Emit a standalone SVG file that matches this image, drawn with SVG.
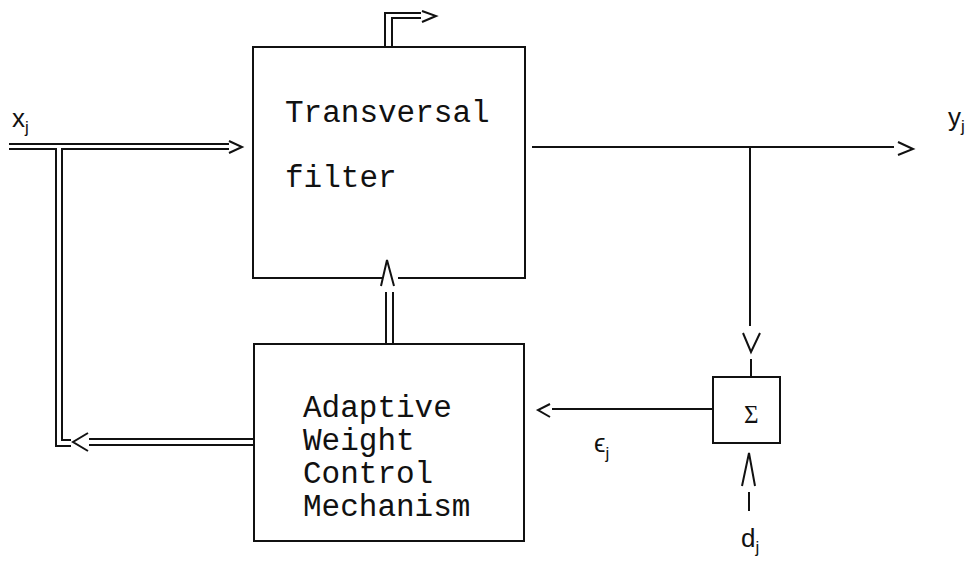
<svg xmlns="http://www.w3.org/2000/svg" width="979" height="562" viewBox="0 0 979 562">
<style>
.ln{fill:none;stroke:#111;stroke-width:2;stroke-linecap:square;stroke-linejoin:miter}
.ar{fill:none;stroke:#111;stroke-width:2}
.box{fill:none;stroke:#111;stroke-width:2}
.mono{font-family:"Liberation Mono","DejaVu Sans Mono",monospace;font-size:31px;fill:#111}
.lab{font-family:"Liberation Sans","DejaVu Sans",sans-serif;fill:#111}
</style>
<rect width="979" height="562" fill="#fff"/>
<g id="filter">
<path class="box" d="M382,278 H253 V47 H525 V278 H398"/>
<text class="mono" x="285" y="122">Transversal</text>
<text class="mono" x="285" y="187">filter</text>
</g>
<g id="adaptive">
<rect class="box" x="254" y="344" width="270" height="197"/>
<text class="mono" x="303" y="417">Adaptive</text>
<text class="mono" x="303" y="450">Weight</text>
<text class="mono" x="303" y="483">Control</text>
<text class="mono" x="303" y="516">Mechanism</text>
</g>
<g id="sum">
<rect class="box" x="713" y="377" width="67" height="66"/>
<text x="744" y="423" font-size="25" font-family="Liberation Serif,serif" fill="#111">Σ</text>
</g>
<g id="labels">
<text class="lab" x="12" y="127" font-size="26">x<tspan font-size="17" dy="6">j</tspan></text>
<text class="lab" x="948" y="126" font-size="26">y<tspan font-size="17" dy="6">j</tspan></text>
<text class="lab" x="594" y="452" font-size="26">ϵ<tspan font-size="17" dy="7">j</tspan></text>
<text class="lab" x="741" y="547" font-size="26">d<tspan font-size="17" dy="6">j</tspan></text>
</g>
<g id="connectors">
<path class="ln" d="M10,144 H228"/>
<path class="ln" d="M10,149 H56 V446 H70"/>
<path class="ln" d="M228,149 H62 V440 H70"/>
<path class="ar" d="M229,141 L242,147 L229,153"/>
<path class="ln" d="M90,439 H254 M90,445 H254"/>
<path class="ar" d="M88,433 L73,442 L88,451"/>
<path class="ln" d="M385,47 V13 H420 M392,47 V18 H420"/>
<path class="ar" d="M422,11 L436,16 L422,22"/>
<path class="ln" d="M386,344 V293 M393,344 V293"/>
<path class="ar" d="M381,286 L387,260 L394,286"/>
<path class="ln" d="M533,147 H893"/>
<path class="ar" d="M898,142 L913,149 L898,155"/>
<path class="ln" d="M750,147 V325 M751,360 V377"/>
<path class="ar" d="M743,333 L751,352 L760,333"/>
<path class="ln" d="M713,409 H553"/>
<path class="ar" d="M550,404 L538,410 L550,417"/>
<path class="ar" d="M742,486 L749,453 L755,486"/>
<path class="ln" d="M749,493 V510"/>
</g>
</svg>
